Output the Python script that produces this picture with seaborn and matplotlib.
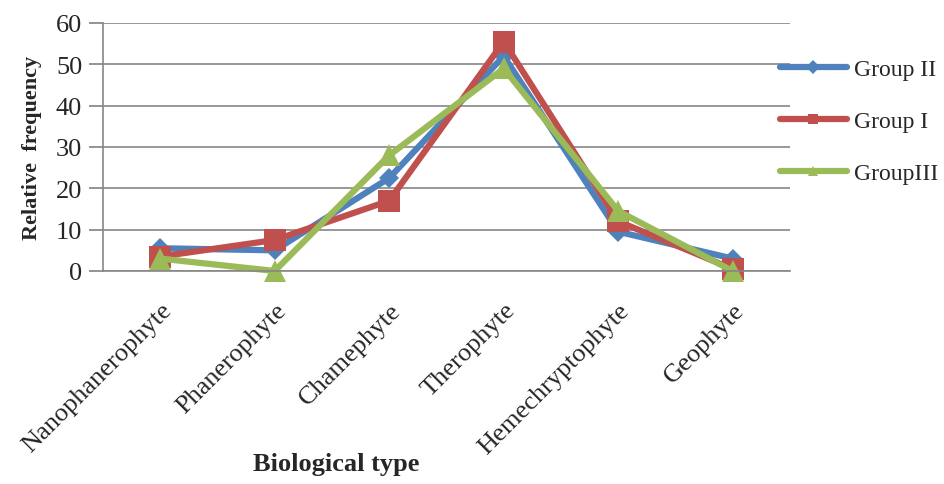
import pandas as pd
import matplotlib.pyplot as plt
import seaborn as sns
from matplotlib.lines import Line2D

# chart values
biological_types = ["Nanophanerophyte", "Phanerophyte", "Chamephyte",
                    "Therophyte", "Hemechryptophyte", "Geophyte"]
group_ii = [5.5, 5, 22.5, 52, 9.5, 3]
group_i = [3.5, 7.5, 17, 55.5, 12, 0.5]
group_iii = [3, 0, 28, 49, 14.5, 0]
group_names = ["Group II", "Group I", "GroupIII"]
y_ticks = [0, 10, 20, 30, 40, 50, 60]

colors = {"Group II": "#4F81BD", "Group I": "#C0504D", "GroupIII": "#9BBB59"}
markers = {"Group II": "D", "Group I": "s", "GroupIII": "^"}
msizes = {"Group II": 10, "Group I": 16, "GroupIII": 16}

df = pd.DataFrame({
    "type": biological_types * 3,
    "freq": group_ii + group_i + group_iii,
    "group": [g for g in group_names for _ in biological_types],
})

sns.set_theme(style="white")
plt.rcParams["font.family"] = ["Liberation Serif", "DejaVu Serif"]

fig = plt.figure(figsize=(9.45, 4.85), dpi=100)
ax = fig.add_axes([103 / 945, 1 - 272 / 485, (790 - 103) / 945, (272 - 24) / 485])

sns.lineplot(data=df, x="type", y="freq", hue="group", style="group",
             hue_order=group_names, style_order=group_names,
             palette=colors, markers=markers, dashes=False, sort=False,
             linewidth=4.5, markeredgewidth=0, legend=False, ax=ax)

for line, g in zip(ax.lines, group_names):
    line.set_markersize(msizes[g])
    line.set_clip_on(False)

ax.set_xlim(-0.5, len(biological_types) - 0.5)
ax.set_ylim(0, 60)
ax.set_yticks(y_ticks)
ax.tick_params(axis="y", labelsize=19, length=10, color="#868686", pad=5, direction="out", left=True)
ax.tick_params(axis="x", labelsize=19, length=0, pad=20)
plt.setp(ax.get_xticklabels(), rotation=45, ha="right", rotation_mode="anchor")
ax.yaxis.grid(True, color="#868686", linewidth=1.2)
ax.set_axisbelow(True)

for side in ["top", "right"]:
    ax.spines[side].set_visible(False)
for side in ["left", "bottom"]:
    ax.spines[side].set_color("#868686")
    ax.spines[side].set_linewidth(1.2)

ax.set_ylabel("Relative  frequency", fontsize=16, fontweight="bold", labelpad=10)
ax.set_xlabel("Biological type", fontsize=19, fontweight="bold")
ax.xaxis.set_label_coords((336 - 103) / (790 - 103), -(453 - 272) / (272 - 24))

handles = [Line2D([0], [0], color=colors[g], marker=markers[g], markersize=7,
                  markeredgewidth=0, linewidth=4.5) for g in group_names]
fig.legend(handles, group_names, loc="upper left", bbox_to_anchor=(771 / 945, 1 - 50 / 485),
           frameon=False, fontsize=17, handlelength=2.8, handletextpad=0.3,
           labelspacing=1.3, borderaxespad=0)

fig.savefig("out.png", dpi=100)
